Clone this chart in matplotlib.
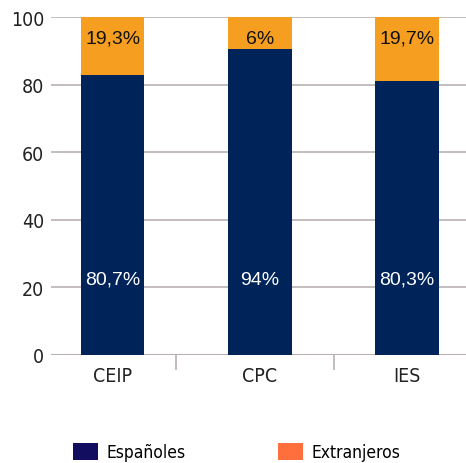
import matplotlib
matplotlib.use("Agg")
from matplotlib import pyplot as plt
from matplotlib.patches import Patch
from matplotlib.font_manager import FontProperties
import numpy as np

categories = ["CEIP", "CPC", "IES"]
espanoles = [82.9, 90.6, 81.2]
extranjeros = [17.1, 9.4, 18.8]
esp_labels = ["80,7%", "94%", "80,3%"]
ext_labels = ["19,3%", "6%", "19,7%"]

navy = "#00235a"
orange = "#f69e20"


def narrow(size):
    return FontProperties(family=["DejaVu Sans"], stretch="condensed", size=size)


fig = plt.figure(figsize=(4.66, 4.64), dpi=100)
ax = fig.add_axes([51 / 466, 1 - 355.7 / 464, 1 - 51 / 466, 337.4 / 464])

x = np.arange(len(categories))
ax.bar(x, espanoles, width=0.43, color=navy, zorder=3)
ax.bar(x, extranjeros, width=0.43, bottom=espanoles, color=orange, zorder=3)

for i in range(len(categories)):
    ax.text(x[i], 22.4, esp_labels[i], ha="center", va="center",
            color="white", fontsize=14, family=["Liberation Sans", "DejaVu Sans"], zorder=4)
    ax.text(x[i], 93.8, ext_labels[i], ha="center", va="center",
            color="#111111", fontsize=14, family=["Liberation Sans", "DejaVu Sans"], zorder=4)

ax.set_ylim(0, 100)
ax.set_xlim(-0.42, 2.40)
ax.set_yticks(np.arange(0, 101, 20))
ax.grid(axis="y", color="#b9b1b1", linewidth=1.2, zorder=0)
for s in ["top", "right", "left", "bottom"]:
    ax.spines[s].set_visible(False)
ax.axhline(0, color="#b9b1b1", linewidth=1.5, zorder=2)

ax.set_xticks(x)
ax.set_xticklabels(categories, color="#222222")
ax.set_xticks([0.43, 1.5], minor=True)
ax.tick_params(axis="x", which="major", length=0, pad=8)
ax.tick_params(axis="x", which="minor", length=11, width=1.2, color="#b9b1b1")
ax.tick_params(axis="y", length=0, pad=5)
for lbl in ax.get_xticklabels():
    lbl.set_fontproperties(narrow(14))
for lbl in ax.get_yticklabels():
    lbl.set_fontproperties(narrow(14))
    lbl.set_color("#222222")

handles = [Patch(facecolor="#120d5e", edgecolor="none", label="Españoles"),
           Patch(facecolor="#ff6e3d", edgecolor="none", label="Extranjeros")]
fig.legend(handles=handles, loc="lower left", bbox_to_anchor=(57 / 466, -14 / 464),
           ncol=2, frameon=False, handlelength=1.45, handleheight=1.1,
           columnspacing=5.3, handletextpad=0.5, prop=narrow(12.5))

fig.savefig("out.png", dpi=100)
